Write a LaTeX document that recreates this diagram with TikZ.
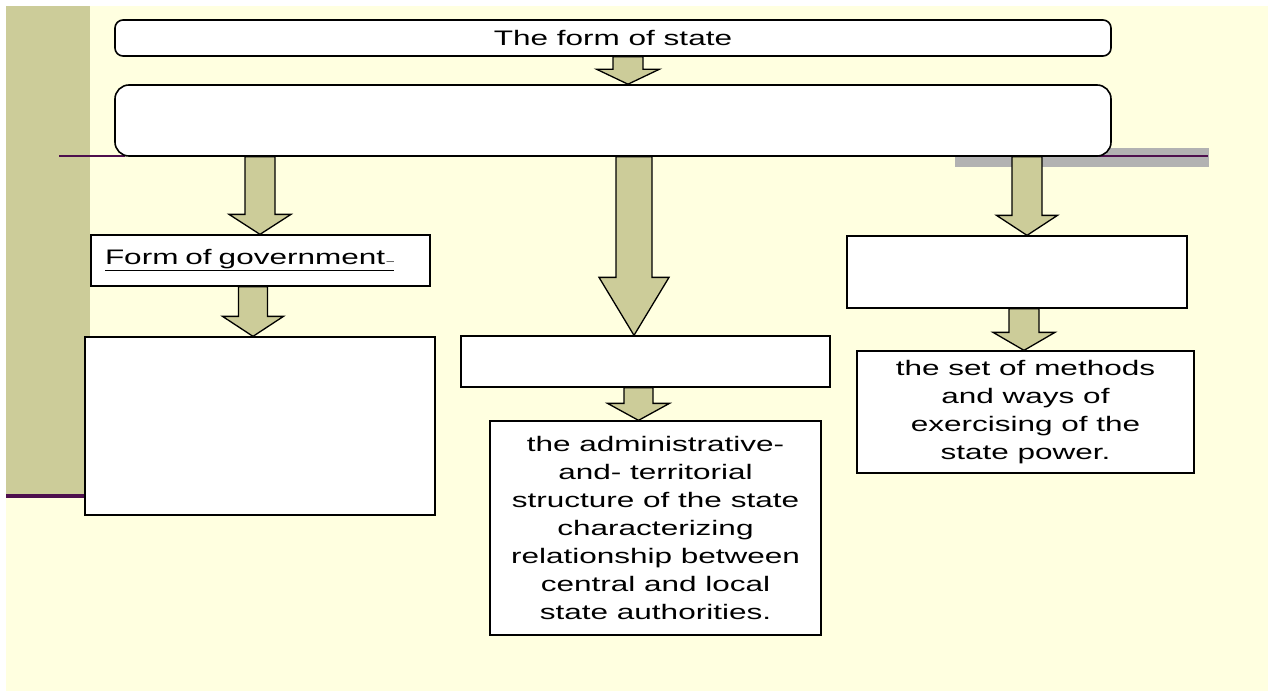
\documentclass[tikz,border=0pt]{standalone}
\usepackage{fontspec}
\setmainfont{Liberation Sans}[FakeStretch=1.5]
\usetikzlibrary{calc}
\definecolor{paper}{HTML}{FFFFE0}
\definecolor{olive}{HTML}{CCCC99}
\definecolor{plum}{HTML}{4D0F4D}
\definecolor{band}{HTML}{B2B2B2}
\tikzset{
  card/.style={draw=black, fill=white, line width=1.3pt, inner sep=0pt,
    font=\fontsize{21}{28}\selectfont, align=center},
  roundcard/.style={card, line width=1.6pt},
  arrowfill/.style={fill=olive, draw=black, line width=1.3pt, line join=miter},
}
% block arrow: #1 centre x, #2 source node, #3 target node,
% #4 half shaft width, #5 half head width, #6 head length
\newcommand{\blockarrow}[6]{%
  \filldraw[arrowfill] let \p1=(#1,0), \p2=(#2.south), \p3=(#3.north) in
    (\x1-#4pt,\y2) -- (\x1-#4pt,\y3+#6pt) -- (\x1-#5pt,\y3+#6pt) --
    (\x1,\y3) -- (\x1+#5pt,\y3+#6pt) -- (\x1+#4pt,\y3+#6pt) --
    (\x1+#4pt,\y2) -- cycle;}
\begin{document}
\begin{tikzpicture}[x=1pt,y=-1pt]
  \useasboundingbox (0,0) rectangle (1268,691);
  \fill[white] (0,0) rectangle (1268,691);
  \fill[paper] (6,6) rectangle (1268,691);
  % left side strip with its rules
  \fill[olive] (6,6) rectangle (90,495);
  \fill[plum] (6,494) rectangle (88,498);
  \draw[plum, line width=1.5pt] (59,156) -- (125,156);
  % grey band on the right
  \fill[band] (955,148) rectangle (1209,167);
  \draw[plum, line width=1.5pt] (1095,156) -- (1208,156);

  % boxes
  \node[roundcard, rounded corners=8pt, minimum width=996pt, minimum height=36pt]
    (form) at (613,38) {The form of state};
  \node[roundcard, rounded corners=14pt, minimum width=996pt, minimum height=71pt]
    (kinds) at (613,120.5) {};
  \node[card, minimum width=339pt, minimum height=51pt, text width=311pt, align=left]
    (gov) at (260.5,260.5) {\raisebox{3pt}{\underline{Form of government{\small\,–}}}};
  \node[card, minimum width=350pt, minimum height=178pt] (govdef) at (260,426) {};
  \node[card, minimum width=369pt, minimum height=51pt] (struct) at (645.5,361.5) {};
  \node[card, minimum width=331pt, minimum height=214pt] (structdef) at (655.5,528)
    {the administrative-\\and- territorial\\structure of the state\\characterizing\\relationship between\\central and local\\state authorities.};
  \node[card, minimum width=340pt, minimum height=72pt] (regime) at (1017,272) {};
  \node[card, minimum width=337pt, minimum height=122pt] (regimedef) at (1025.5,412)
    {the set of methods\\and ways of\\exercising of the\\state power.};

  % block arrows
  \blockarrow{628}{form}{kinds}{15}{31.5}{15}
  \blockarrow{260}{kinds}{gov}{15}{31}{20}
  \blockarrow{634}{kinds}{struct}{18}{35}{58}
  \blockarrow{1027}{kinds}{regime}{15}{30.5}{20}
  \blockarrow{253}{gov}{govdef}{14.5}{30.5}{20}
  \blockarrow{638.5}{struct}{structdef}{14.5}{31}{17}
  \blockarrow{1024}{regime}{regimedef}{15}{31}{18}
\end{tikzpicture}
\end{document}
